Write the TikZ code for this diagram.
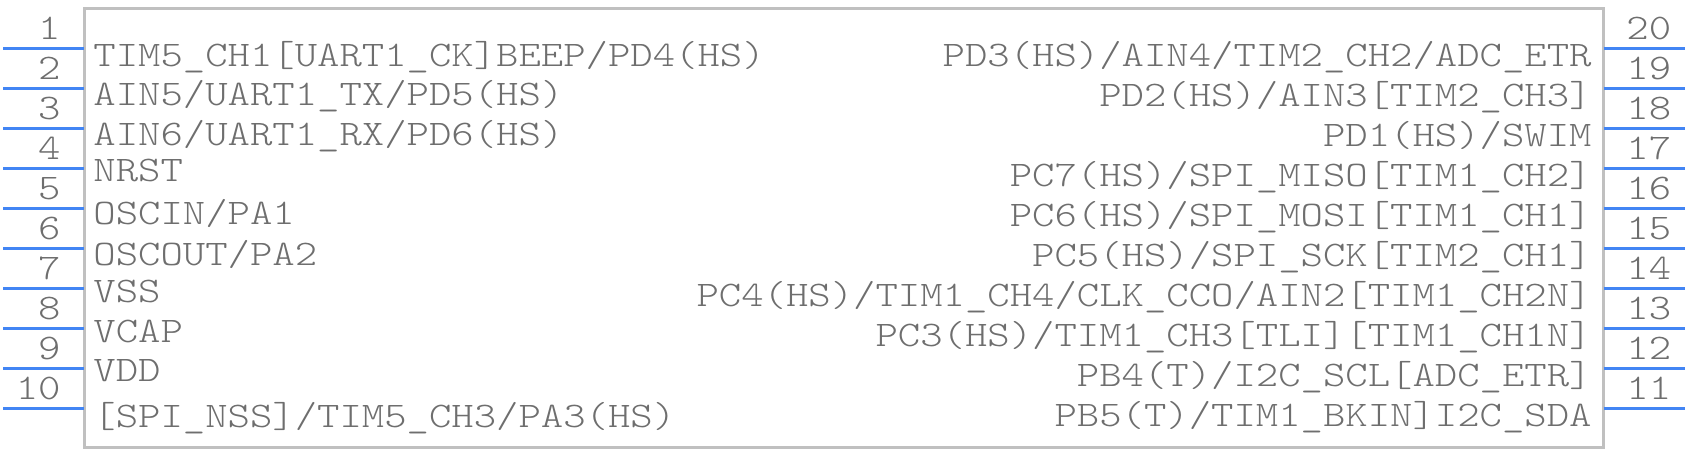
\documentclass[tikz,border=0pt]{standalone}
\usepackage{fontspec}
\newfontfamily\pinfont[Extension = .otf, FakeStretch = 1.184]{lmmonolt10-regular}
\definecolor{pinblue}{HTML}{4285F4}
\definecolor{bodygray}{HTML}{C0C0C0}
\definecolor{textgray}{HTML}{6E6E6E}

\begin{document}
\begin{tikzpicture}[x = 0.5pt, y = -0.5pt,
  pinline/.style = {draw = pinblue, line width = 1.5pt},
  body/.style = {draw = bodygray, line width = 1.5pt, inner sep = 0, outer sep = 0},
  pinlabel/.style = {font = \pinfont\fontsize{18pt}{20pt}\selectfont,
    text = textgray, inner sep = 0}
  ]
  \useasboundingbox (0, 0) rectangle (1688, 452);

  \node[body, anchor = north west, minimum width = 759.75pt,
  minimum height = 219.15pt] (chip) at (84, 8.7) {};

  % left side, pins 1 to 10
  \foreach \n/\dy/\txt in {1/18/{TIM5\_CH1[UART1\_CK]BEEP/PD4(HS)},
    2/17/{AIN5/UART1\_TX/PD5(HS)}, 3/17/{AIN6/UART1\_RX/PD6(HS)},
    4/13/{NRST}, 5/16/{OSCIN/PA1}, 6/17/{OSCOUT/PA2}, 7/14/{VSS},
    8/14/{VCAP}, 9/13/{VDD}, 10/19/{[SPI\_NSS]/TIM5\_CH3/PA3(HS)}}{
    \pgfmathsetmacro{\py}{48 + 40*(\n - 1)}
    \coordinate (l\n) at (3, \py);
    \draw[pinline] (l\n) -- (l\n -| chip.west);
    \node[pinlabel, anchor = base east] (lnum\n) at (61, \py - 9) {\n};
    \node[pinlabel, anchor = base west] (ltxt\n) at (93, \py + \dy) {\txt};
  }

  % right side, pins 20 down to 11
  \foreach \r/\n/\txt in {1/20/{PD3(HS)/AIN4/TIM2\_CH2/ADC\_ETR},
    2/19/{PD2(HS)/AIN3[TIM2\_CH3]}, 3/18/{PD1(HS)/SWIM},
    4/17/{PC7(HS)/SPI\_MISO[TIM1\_CH2]}, 5/16/{PC6(HS)/SPI\_MOSI[TIM1\_CH1]},
    6/15/{PC5(HS)/SPI\_SCK[TIM2\_CH1]},
    7/14/{PC4(HS)/TIM1\_CH4/CLK\_CCO/AIN2[TIM1\_CH2N]},
    8/13/{PC3(HS)/TIM1\_CH3[TLI][TIM1\_CH1N]},
    9/12/{PB4(T)/I2C\_SCL[ADC\_ETR]}, 10/11/{PB5(T)/TIM1\_BKIN]I2C\_SDA}}{
    \pgfmathsetmacro{\py}{48 + 40*(\r - 1)}
    \coordinate (r\n) at (1685, \py);
    \draw[pinline] (chip.east |- r\n) -- (r\n);
    \node[pinlabel, anchor = base west] (rnum\n) at (1626, \py - 9) {\n};
    \node[pinlabel, anchor = base east] (rtxt\n) at (1592, \py + 18) {\txt};
  }
\end{tikzpicture}
\end{document}
